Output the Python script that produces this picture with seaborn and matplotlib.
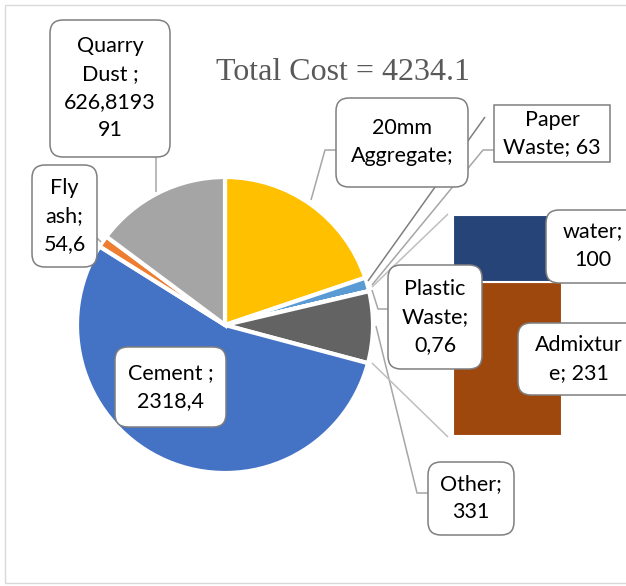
import matplotlib
matplotlib.use("Agg")
import matplotlib.pyplot as plt
from matplotlib.patches import FancyBboxPatch, Rectangle
import seaborn as sns

# ---- data ----
pie_labels = ["20mm Aggregate", "Paper Waste", "Plastic Waste", "Other", "Cement", "Fly ash", "Quarry Dust"]
pie_values = [839.5, 63, 0.76, 331, 2318.4, 54.6, 626.819391]
pie_colors = ["#FFC000", "#5B9BD5", "#70AD47", "#636363", "#4472C4", "#ED7D31", "#A5A5A5"]

bar_labels = ["Admixture", "water"]
bar_values = [231, 100]
bar_colors = ["#9E480E", "#264478"]

title_text = "Total Cost = 4234.1"

sns.set_style("white")
plt.rcParams['font.family'] = ['Lato', 'DejaVu Sans']

W, H = 626, 586
fig = plt.figure(figsize=(W / 100, H / 100), dpi=100)
ax = fig.add_axes([0, 0, 1, 1])

def Y(y):
    return H - y

# pie
ax.pie(pie_values, colors=pie_colors, startangle=90, counterclock=False,
       center=(225, Y(325)), radius=148,
       wedgeprops=dict(edgecolor="white", linewidth=3))
ax.set_xlim(0, W)
ax.set_ylim(0, H)
ax.set_aspect("equal")
ax.axis("off")

# outer frame
ax.add_patch(Rectangle((5, Y(583)), 640, 578, fill=False, ec="#D9D9D9", lw=1.0))

# title
ax.text(343, Y(73), title_text, family="Liberation Serif", fontsize=23,
        color="#595959", ha="center", va="center")

# leader / connector lines
lc = "#A6A6A6"
def line(pts, color=lc, lw=1.1):
    xs = [p[0] for p in pts]
    ys = [Y(p[1]) for p in pts]
    ax.plot(xs, ys, color=color, lw=lw, solid_capstyle="butt", zorder=1)

line([(156, 157), (156, 192)])
line([(97, 238), (101, 242)])
line([(336, 150), (325, 150), (311, 200)])
line([(494, 150), (483, 150), (372, 285)])
line([(485, 117), (368, 281)], color="#7F7F7F")
line([(388, 309), (378, 309), (372, 290)])
line([(428, 493), (417, 493), (376, 326)])
line([(448, 214), (372, 287)], color="#BFBFBF")
line([(372, 363), (448, 437)], color="#BFBFBF")

# stacked bar (second plot)
bx0, bx1, by0, by1 = 453, 562, 215, 436
bax = fig.add_axes([bx0 / W, (H - by1) / H, (bx1 - bx0) / W, (by1 - by0) / H])
bottom = 0
for v, c in zip(bar_values, bar_colors):
    bax.bar(0, v, width=1, bottom=bottom, color=c, edgecolor="white", linewidth=1.5)
    bottom += v
bax.set_xlim(-0.5, 0.5)
bax.set_ylim(0, sum(bar_values))
bax.axis("off")

# label boxes drawn on top of everything
lax = fig.add_axes([0, 0, 1, 1])
lax.set_xlim(0, W)
lax.set_ylim(0, H)
lax.axis("off")

def label(box, text, rounded=True):
    x0, y0, x1, y1 = box
    style = "round,pad=0,rounding_size=13" if rounded else "square,pad=0"
    lax.add_patch(FancyBboxPatch((x0, Y(y1)), x1 - x0, y1 - y0, boxstyle=style,
                                 fc="white", ec="#7F7F7F", lw=1.1))
    lax.text((x0 + x1) / 2, Y((y0 + y1) / 2), text, ha="center", va="center",
             fontsize=15.5, color="black", linespacing=1.5)

label((50, 20, 170, 157), "Quarry\nDust ;\n626,8193\n91")
label((32, 165, 97, 267), "Fly\nash;\n54,6")
label((115, 347, 226, 427), "Cement ;\n2318,4")
label((336, 98, 468, 187), "20mm\nAggregate;")
label((494, 105, 610, 162), "Paper\nWaste; 63", rounded=False)
label((388, 265, 482, 369), "Plastic\nWaste;\n0,76")
label((546, 210, 640, 283), "water;\n100")
label((518, 323, 640, 395), "Admixtur\ne; 231")
label((428, 462, 514, 535), "Other;\n331")

fig.savefig("out.png", dpi=100)
